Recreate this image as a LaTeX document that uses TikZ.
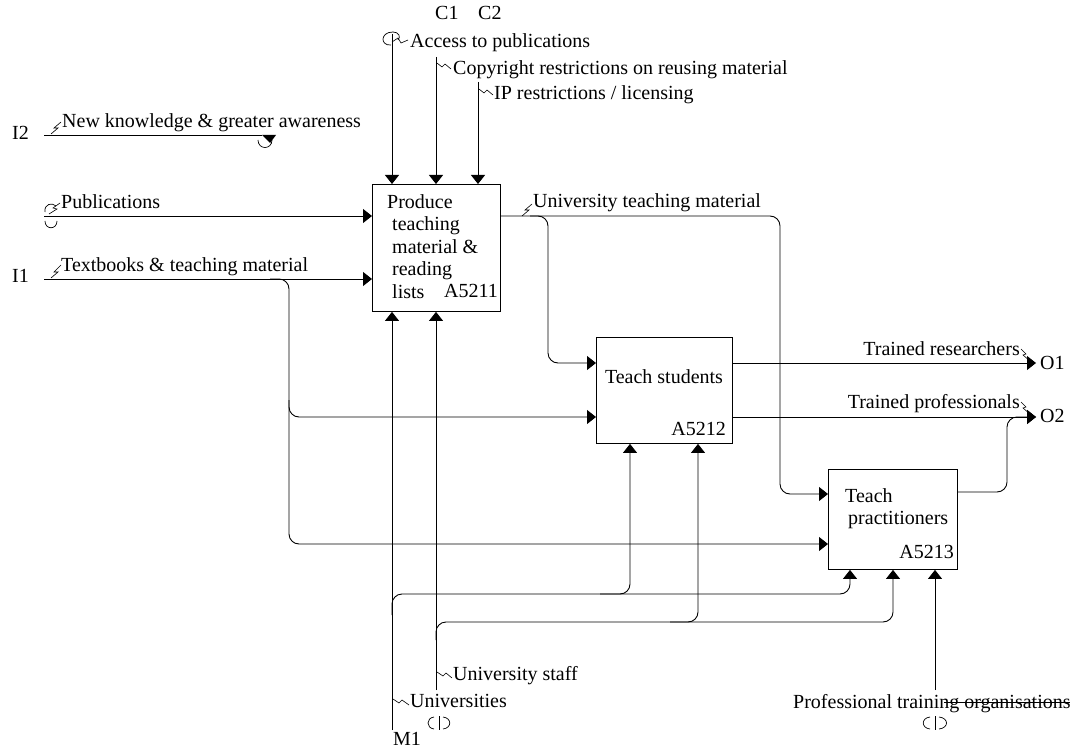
\documentclass[tikz,border=0pt]{standalone}
\usepackage{fontspec}
\setmainfont{Liberation Serif}
\usetikzlibrary{arrows.meta,positioning}
\tikzset{
  act/.style={draw,line width=0.9pt,inner sep=0pt,anchor=north west},
  txt/.style={font=\fontsize{20}{22.5}\selectfont,inner sep=0pt},
  lbl/.style={txt,anchor=base west},
  lblr/.style={txt,anchor=base east},
  num/.style={txt,anchor=base east},
  arr/.style={-{Triangle[length=9pt,width=14pt]},line width=0.9pt,rounded corners=10pt},
  pipe/.style={line width=0.9pt,rounded corners=10pt},
  sq/.style={line width=0.6pt},
  tun/.style={line width=0.7pt},
}

\begin{document}
\begin{tikzpicture}[x=1pt,y=-1pt]
\useasboundingbox (0,0) rectangle (1078,751);
% activity boxes
\node[act,minimum width=128pt,minimum height=127pt] (a1) at (372,184) {};
\node[act,minimum width=136pt,minimum height=106pt] (a2) at (596,337) {};
\node[act,minimum width=129pt,minimum height=100pt] (a3) at (828,469) {};
\node[txt,anchor=north west,align=left] (a1name) at (387,194) {Produce\\\hspace*{5pt}teaching\\\hspace*{5pt}material \&\\\hspace*{5pt}reading\\\hspace*{5pt}lists};
\node[num] (a1num) at (498,297) {A5211};
\node[txt,anchor=base] (a2name) at (664,383) {Teach students};
\node[num] (a2num) at (726,435) {A5212};
\node[txt,anchor=north west,align=left] (a3name) at (845,488) {Teach\\\hspace*{3pt}practitioners};
\node[num] (a3num) at (954,558) {A5213};
% boundary codes
\node[lbl] (i2) at (12,140) {I2};
\node[lbl] (i1) at (12,283) {I1};
\node[lbl] (c1) at (435,20) {C1};
\node[lbl] (c2) at (478,20) {C2};
\node[lbl] (m1) at (393,745) {M1};
\node[lbl] (o1) at (1040,369) {O1};
\node[lbl] (o2) at (1040,422) {O2};
% arrow labels
\node[lbl] (lnew) at (62,128) {New knowledge \& greater awareness};
\node[lbl] (lpub) at (61,209) {Publications};
\node[lbl] (ltxt) at (61,272) {Textbooks \& teaching material};
\node[lbl] (lacc) at (410,48) {Access to publications};
\node[lbl] (lcopy) at (453,75) {Copyright restrictions on reusing material};
\node[lbl] (lip) at (494,100) {IP restrictions / licensing};
\node[lbl] (lutm) at (533,208) {University teaching material};
\node[lblr] (lres) at (1020,355) {Trained researchers};
\node[lblr] (lpro) at (1020,408) {Trained professionals};
\node[lbl] (lstaff) at (453,680) {University staff};
\node[lbl] (luni) at (410,707) {Universities};
\node[lbl] (lpto) at (793,708) {Professional training organisations};
% free ends
\coordinate (i2s) at (44,135);
\coordinate (i2e) at (262,135);
\coordinate (pubs) at (44,216);
\coordinate (txts) at (44,279);
\coordinate (accs) at (392,34);
\coordinate (c1s) at (436,57);
\coordinate (c2s) at (478,82);
\coordinate (unis) at (392,730);
\coordinate (stfs) at (436,690);
\coordinate (ptos) at (935,690);
\coordinate (o1e) at (1036,363);
\coordinate (o2e) at (1036,417);
% inputs
\draw[pipe] (i2s) -- (i2e);
\fill (262,135) -- (276,135) -- (270,143) -- cycle;
\draw[arr] (pubs) -- (a1.west |- pubs);
\draw[arr] (txts) -- (a1.west |- txts);
\draw[arr] (270,279) -- (289,279) -- (289,417) -- (a2.west |- 0,417);
\draw[arr] (289,400) -- (289,544) -- (a3.west |- 0,544);
% controls
\draw[arr] (accs) -- (a1.north -| accs);
\draw[arr] (c1s) -- (a1.north -| c1s);
\draw[arr] (c2s) -- (a1.north -| c2s);
% mechanisms
\draw[arr] (unis) -- (a1.south -| unis);
\draw[arr] (stfs) -- (a1.south -| stfs);
\draw[arr] (392,615) -- (392,594) -- (630,594) -- (a2.south -| 630,0);
\draw[arr] (600,594) -- (850,594) -- (a3.south -| 850,0);
\draw[arr] (436,640) -- (436,622) -- (698,622) -- (a2.south -| 698,0);
\draw[arr] (670,622) -- (893,622) -- (a3.south -| 893,0);
\draw[arr] (ptos) -- (a3.south -| ptos);
\draw[pipe] (944,702) -- (1070,702);
% outputs
\draw[arr] (a1.east |- 0,216) -- (548,216) -- (548,363) -- (a2.west |- 0,363);
\draw[arr] (530,216) -- (780,216) -- (780,494) -- (a3.west |- 0,494);
\draw[arr] (a2.east |- 0,363) -- (o1e);
\draw[arr] (a2.east |- 0,417) -- (o2e);
\draw[arr] (a3.east |- 0,492) -- (1007,492) -- (1007,417) -- (o2e);
% squiggles
\draw[sq] (51,134) -- (58,128) -- (54,128) -- (61,122);
\draw[sq] (51,278) -- (58,272) -- (54,272) -- (61,265);
\draw[sq] (49,214) -- (57,209) -- (53,208) -- (60,203);
\draw[sq] (392,42) -- (398,38) -- (401,43) -- (408,40);
\draw[sq] (437,63) -- (442,67) -- (445,64) -- (451,69);
\draw[sq] (479,89) -- (484,93) -- (487,90) -- (493,95);
\draw[sq] (522,216) -- (529,210) -- (525,210) -- (532,204);
\draw[sq] (1021,349) -- (1026,354) -- (1023,355) -- (1030,361);
\draw[sq] (1021,402) -- (1026,407) -- (1023,408) -- (1030,414);
\draw[sq] (437,672) -- (443,676) -- (446,673) -- (452,678);
\draw[sq] (393,699) -- (399,703) -- (402,700) -- (409,705);
% tunnels
\draw[tun] (258,140) .. controls (258,150) and (272,150) .. (272,140);
\draw[tun] (45,212) .. controls (44,204) and (52,202) .. (56,206);
\draw[tun] (45,221) .. controls (45,230) and (57,230) .. (57,221);
\draw[tun] (393,32) .. controls (380,32) and (380,46) .. (391,45);
\draw[tun] (393,32) .. controls (399,32) and (401,37) .. (398,40);
\draw[tun] (434,717) .. controls (426,718) and (426,728) .. (434,729);
\draw[tun] (443,717) .. controls (452,718) and (452,728) .. (443,729);
\draw[tun] (439,716) -- (439,730);
\draw[tun] (930,717) .. controls (921,718) and (921,728) .. (930,729);
\draw[tun] (939,717) .. controls (949,718) and (949,728) .. (939,729);
\draw[tun] (935,716) -- (935,730);
\end{tikzpicture}
\end{document}
